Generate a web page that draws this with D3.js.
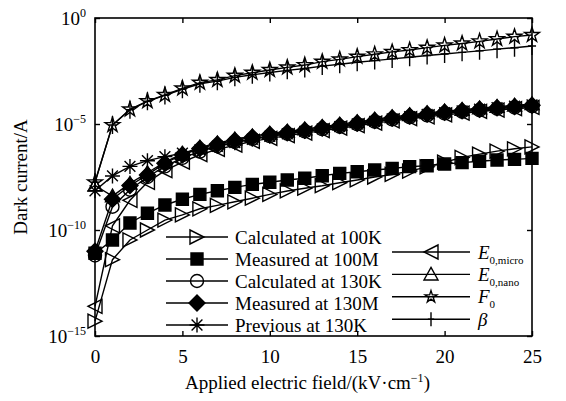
<!DOCTYPE html>
<html>
<head>
<meta charset="utf-8">
<script src="https://cdn.jsdelivr.net/npm/d3@7"></script>
<style>
  body { margin: 0; background: #fff; }
  svg text { font-family: "Liberation Serif", "Times New Roman", serif; fill: #000; }
</style>
</head>
<body>
<div id="chart"></div>
<script>
// applied field, kV/cm
var field = [0,1,2,3,4,5,6,7,8,9,10,11,12,13,14,15,16,17,18,19,20,21,22,23,24,25];

// dark current, stored as log10(A)
var calc100K = [-14.3,-11.4,-10.47,-10.0,-9.53,-9.29,-9.0,-8.84,-8.67,-8.5,-8.32,-8.16,-8.03,-7.91,-7.77,-7.64,
                -7.5,-7.38,-7.22,-7.02,-6.8,-6.58,-6.42,-6.28,-6.17,-6.08];
var meas100M = [-11.1,-10.47,-9.67,-9.21,-8.82,-8.55,-8.32,-8.15,-7.99,-7.85,-7.75,-7.64,-7.56,-7.44,-7.33,-7.25,
                -7.17,-7.1,-7.01,-6.97,-6.89,-6.82,-6.76,-6.7,-6.67,-6.62];
var calc130K = [-11.2,-8.9,-8.1,-7.5,-7.0,-6.6,-6.3,-6.05,-5.85,-5.7,-5.57,-5.46,-5.35,-5.24,-5.13,-5.01,
                -4.89,-4.78,-4.68,-4.59,-4.5,-4.42,-4.35,-4.28,-4.22,-4.16];
var meas130M = [-11.0,-8.55,-7.9,-7.4,-6.85,-6.45,-6.15,-5.95,-5.78,-5.62,-5.5,-5.4,-5.3,-5.18,-5.07,-4.95,
                -4.83,-4.72,-4.62,-4.53,-4.45,-4.37,-4.3,-4.23,-4.18,-4.12];
var prev130K = [-8.15,-7.45,-7.0,-6.73,-6.54,-6.38,-6.22,-6.05,-5.88,-5.72,-5.58,-5.46,-5.35,-5.23,-5.12,-5.0,
                -4.88,-4.76,-4.65,-4.55,-4.46,-4.38,-4.3,-4.23,-4.16,-4.1];
var e0micro  = [-13.6,-9.8,-8.6,-7.75,-7.2,-6.8,-6.45,-6.2,-6.0,-5.82,-5.68,-5.55,-5.43,-5.31,-5.2,-5.08,
                -4.96,-4.85,-4.75,-4.66,-4.57,-4.49,-4.41,-4.34,-4.28,-4.22];
var e0nano   = [-7.9,-8.4,-7.8,-7.3,-6.8,-6.4,-6.1,-5.9,-5.72,-5.57,-5.45,-5.35,-5.25,-5.13,-5.02,-4.9,
                -4.78,-4.67,-4.57,-4.48,-4.4,-4.32,-4.25,-4.18,-4.12,-4.06];
var f0       = [-7.75,-5.05,-4.31,-3.92,-3.63,-3.32,-3.05,-2.92,-2.72,-2.58,-2.45,-2.33,-2.22,-2.06,-1.95,-1.82,
                -1.71,-1.6,-1.51,-1.4,-1.29,-1.2,-1.1,-0.99,-0.88,-0.8];
var beta     = [-7.75,-5.05,-4.33,-3.93,-3.65,-3.36,-3.1,-2.98,-2.8,-2.68,-2.57,-2.47,-2.38,-2.27,-2.18,-2.09,
                -2.01,-1.93,-1.85,-1.77,-1.7,-1.62,-1.55,-1.47,-1.4,-1.32];

var xTicks = [0,5,10,15,20,25];
var yTickExp = [0,-5,-10,-15];

var width = 566, height = 401;
var margin = {top: 18, right: 34, bottom: 65, left: 95};
var w = width - margin.left - margin.right;
var h = height - margin.top - margin.bottom;

var svg = d3.select("#chart").append("svg")
  .attr("width", width)
  .attr("height", height);

var xScale = d3.scaleLinear().domain([0, 25]).range([margin.left, margin.left + w]);
var yScale = d3.scaleLog().domain([1e-15, 1]).range([margin.top + h, margin.top]);

// marker shapes, drawn around 0,0
function markerPath(type, s) {
  var r = s / 2;
  if (type === "right") return "M" + (-r) + "," + (-r) + "L" + r + ",0L" + (-r) + "," + r + "Z";
  if (type === "left") return "M" + r + "," + (-r) + "L" + (-r) + ",0L" + r + "," + r + "Z";
  if (type === "up") return "M0," + (-r) + "L" + r + "," + (r * 0.8) + "L" + (-r) + "," + (r * 0.8) + "Z";
  if (type === "square") return "M" + (-r) + "," + (-r) + "H" + r + "V" + r + "H" + (-r) + "Z";
  if (type === "diamond") return "M0," + (-r) + "L" + r + ",0L0," + r + "L" + (-r) + ",0Z";
  if (type === "circle") return d3.symbol(d3.symbolCircle, Math.PI * r * r)();
  if (type === "star") return d3.symbol(d3.symbolStar, s * s * 0.3)();
  if (type === "asterisk") {
    var k = r * 0.72;
    return "M" + (-r) + ",0H" + r + "M0," + (-r) + "V" + r +
      "M" + (-k) + "," + (-k) + "L" + k + "," + k + "M" + (-k) + "," + k + "L" + k + "," + (-k);
  }
  if (type === "plus") return "M0," + (-r) + "V" + r + "M" + (-r * 0.45) + ",0H" + (r * 0.45);
  return "";
}

var series = [
  {name: "Calculated at 100K", data: calc100K, marker: "right", size: 14, fill: "none"},
  {name: "Measured at 100M", data: meas100M, marker: "square", size: 12, fill: "#000"},
  {name: "Calculated at 130K", data: calc130K, marker: "circle", size: 13, fill: "none"},
  {name: "Measured at 130M", data: meas130M, marker: "diamond", size: 16, fill: "#000"},
  {name: "Previous at 130K", data: prev130K, marker: "asterisk", size: 15, fill: "none"},
  {name: "E0,micro", data: e0micro, marker: "left", size: 14, fill: "none"},
  {name: "E0,nano", data: e0nano, marker: "up", size: 14, fill: "none"},
  {name: "F0", data: f0, marker: "star", size: 15, fill: "none"},
  {name: "beta", data: beta, marker: "plus", size: 18, fill: "none"}
];

var line = d3.line()
  .x(function(d) { return xScale(d[0]); })
  .y(function(d) { return yScale(Math.pow(10, d[1])); });

series.forEach(function(s) {
  var pts = field.map(function(f, i) { return [f, s.data[i]]; });
  var g = svg.append("g").attr("class", "series");
  g.append("path")
    .attr("d", line(pts))
    .attr("fill", "none")
    .attr("stroke", "#000")
    .attr("stroke-width", 1.4);
  g.selectAll("path.mk")
    .data(pts)
    .enter()
    .append("path")
    .attr("class", "mk")
    .attr("d", markerPath(s.marker, s.size))
    .attr("transform", function(d) {
      return "translate(" + xScale(d[0]) + "," + yScale(Math.pow(10, d[1])) + ")";
    })
    .attr("fill", s.fill)
    .attr("stroke", "#000")
    .attr("stroke-width", 1.4);
});

// frame and ticks
svg.append("rect")
  .attr("x", margin.left)
  .attr("y", margin.top)
  .attr("width", w)
  .attr("height", h)
  .attr("fill", "none")
  .attr("stroke", "#000")
  .attr("stroke-width", 1.6);

var xAxis = d3.axisBottom(xScale).tickValues(xTicks).tickSizeInner(-5).tickSizeOuter(0).tickPadding(14);
var gx = svg.append("g")
  .attr("transform", "translate(0," + (margin.top + h) + ")")
  .call(xAxis);
gx.select(".domain").remove();
gx.selectAll("text").attr("font-size", "19px").attr("font-family", "Liberation Serif, serif");

svg.append("g")
  .attr("transform", "translate(0," + margin.top + ")")
  .call(d3.axisTop(xScale).tickValues(xTicks).tickSizeInner(-5).tickSizeOuter(0).tickFormat(""))
  .select(".domain").remove();

var yVals = yTickExp.map(function(e) { return Math.pow(10, e); });
var gy = svg.append("g")
  .attr("transform", "translate(" + margin.left + ",0)")
  .call(d3.axisLeft(yScale).tickValues(yVals).tickSizeInner(-5).tickSizeOuter(0).tickFormat(""));
gy.select(".domain").remove();

svg.append("g")
  .attr("transform", "translate(" + (margin.left + w) + ",0)")
  .call(d3.axisRight(yScale).tickValues(yVals).tickSizeInner(-5).tickSizeOuter(0).tickFormat(""))
  .select(".domain").remove();

svg.selectAll(".tick line").attr("stroke", "#000").attr("stroke-width", 1.4);

// y tick labels as 10 with a superscript
yTickExp.forEach(function(e) {
  var t = svg.append("text")
    .attr("x", margin.left - 9)
    .attr("y", yScale(Math.pow(10, e)) + 7)
    .attr("text-anchor", "end")
    .attr("font-size", "19px");
  t.append("tspan").text("10");
  t.append("tspan")
    .attr("dy", -8)
    .attr("font-size", "12px")
    .text(e === 0 ? "0" : "\u2212" + (-e));
});

// axis titles
svg.append("text")
  .attr("x", xScale(12.5) - 6)
  .attr("y", 389)
  .attr("text-anchor", "middle")
  .attr("font-size", "19px")
  .call(function(t) {
    t.append("tspan").text("Applied electric field/(kV\u00b7cm");
    t.append("tspan").attr("dy", -7).attr("font-size", "12px").text("\u22121");
    t.append("tspan").attr("dy", 7).text(")");
  });

svg.append("text")
  .attr("transform", "translate(27," + (margin.top + h / 2) + ") rotate(-90)")
  .attr("text-anchor", "middle")
  .attr("font-size", "19px")
  .text("Dark current/A");

// legend, left block
var legLeft = series.slice(0, 5);
var lg = svg.append("g");
legLeft.forEach(function(s, i) {
  var y = 237 + i * 22;
  lg.append("line").attr("x1", 166).attr("x2", 228).attr("y1", y).attr("y2", y)
    .attr("stroke", "#000").attr("stroke-width", 1.4);
  lg.append("path").attr("d", markerPath(s.marker, s.size))
    .attr("transform", "translate(197," + y + ")")
    .attr("fill", s.fill).attr("stroke", "#000").attr("stroke-width", 1.4);
  lg.append("text").attr("x", 235).attr("y", y + 6.5).attr("font-size", "19px").text(s.name);
});

// legend, right block
var legRight = series.slice(5);
var rightLabels = [["E", "0,micro"], ["E", "0,nano"], ["F", "0"], ["\u03b2", ""]];
var legSizes = [14, 14, 12, 14];
legRight.forEach(function(s, i) {
  var y = 252 + i * 22.4;
  lg.append("line").attr("x1", 392).attr("x2", 470).attr("y1", y).attr("y2", y)
    .attr("stroke", "#000").attr("stroke-width", 1.4);
  lg.append("path").attr("d", markerPath(s.marker, legSizes[i]))
    .attr("transform", "translate(431," + y + ")")
    .attr("fill", s.fill).attr("stroke", "#000").attr("stroke-width", 1.4);
  var t = lg.append("text").attr("x", 478).attr("y", y + 6.5).attr("font-size", "19px");
  t.append("tspan").attr("font-style", "italic").text(rightLabels[i][0]);
  if (rightLabels[i][1]) {
    t.append("tspan").attr("dy", 5).attr("font-size", "11px").text(rightLabels[i][1]);
  }
});
</script>
</body>
</html>
